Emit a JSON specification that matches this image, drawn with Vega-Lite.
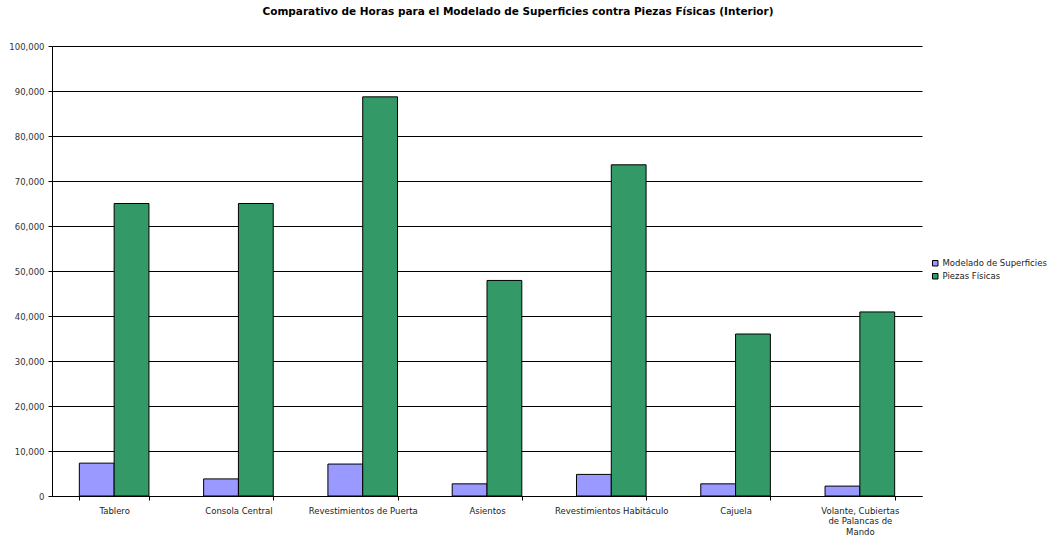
{
  "$schema": "https://vega.github.io/schema/vega-lite/v6.json",
  "autosize": {"type": "none"},
  "width": 870,
  "height": 450,
  "padding": {"left": 52, "top": 46, "right": 125, "bottom": 41},
  "background": "white",
  "title": {
    "text": "Comparativo de Horas para el Modelado de Superficies contra Piezas Físicas (Interior)",
    "font": "DejaVu Sans",
    "fontSize": 10.5,
    "fontWeight": "bold",
    "color": "#000000",
    "anchor": "middle",
    "dx": 31,
    "offset": 25
  },
  "config": {
    "view": {"stroke": null},
    "font": "DejaVu Sans"
  },
  "data": {
    "values": [
      {"cat": "Tablero", "serie": "Modelado de Superficies", "horas": 7300},
      {"cat": "Tablero", "serie": "Piezas Físicas", "horas": 65000},
      {"cat": "Consola Central", "serie": "Modelado de Superficies", "horas": 3800},
      {"cat": "Consola Central", "serie": "Piezas Físicas", "horas": 65000},
      {"cat": "Revestimientos de Puerta", "serie": "Modelado de Superficies", "horas": 7100},
      {"cat": "Revestimientos de Puerta", "serie": "Piezas Físicas", "horas": 88700},
      {"cat": "Asientos", "serie": "Modelado de Superficies", "horas": 2700},
      {"cat": "Asientos", "serie": "Piezas Físicas", "horas": 47900},
      {"cat": "Revestimientos Habitáculo", "serie": "Modelado de Superficies", "horas": 4800},
      {"cat": "Revestimientos Habitáculo", "serie": "Piezas Físicas", "horas": 73600},
      {"cat": "Cajuela", "serie": "Modelado de Superficies", "horas": 2700},
      {"cat": "Cajuela", "serie": "Piezas Físicas", "horas": 36000},
      {"cat": "Volante, Cubiertas de Palancas de Mando", "serie": "Modelado de Superficies", "horas": 2200},
      {"cat": "Volante, Cubiertas de Palancas de Mando", "serie": "Piezas Físicas", "horas": 40900}
    ]
  },
  "mark": {"type": "bar", "stroke": "#000000", "strokeWidth": 1},
  "encoding": {
    "x": {
      "field": "cat",
      "type": "nominal",
      "sort": null,
      "title": null,
      "scale": {"paddingInner": 0.44, "paddingOuter": 0.22},
      "axis": {
        "tickBand": "extent",
        "labelAngle": 0,
        "labelFont": "DejaVu Sans",
        "labelFontSize": 8.5,
        "labelColor": "#222222",
        "labelPadding": 6,
        "labelLimit": 200,
        "labelOverlap": false,
        "domainColor": "#000000",
        "tickColor": "#000000",
        "tickSize": 4,
        "labelExpr": "datum.value == 'Volante, Cubiertas de Palancas de Mando' ? ['Volante, Cubiertas', 'de Palancas de', 'Mando'] : datum.label"
      }
    },
    "xOffset": {"field": "serie", "type": "nominal", "sort": ["Modelado de Superficies", "Piezas Físicas"]},
    "y": {
      "field": "horas",
      "type": "quantitative",
      "title": null,
      "scale": {"domain": [0, 100000], "nice": false},
      "axis": {
        "values": [0, 10000, 20000, 30000, 40000, 50000, 60000, 70000, 80000, 90000, 100000],
        "format": ",d",
        "labelOverlap": false,
        "labelBound": false,
        "labelFlush": false,
        "grid": true,
        "gridColor": "#000000",
        "gridOpacity": 1,
        "domainColor": "#000000",
        "tickColor": "#000000",
        "tickSize": 4,
        "labelFont": "DejaVu Sans",
        "labelFontSize": 8.5,
        "labelColor": "#333333",
        "labelPadding": 4
      }
    },
    "color": {
      "field": "serie",
      "type": "nominal",
      "sort": ["Modelado de Superficies", "Piezas Físicas"],
      "scale": {"domain": ["Modelado de Superficies", "Piezas Físicas"], "range": ["#9999FF", "#339966"]},
      "legend": {
        "title": null,
        "orient": "none",
        "legendX": 879,
        "legendY": 213,
        "symbolType": "square",
        "symbolSize": 30,
        "symbolStrokeColor": "#000000",
        "symbolStrokeWidth": 1,
        "labelFont": "DejaVu Sans",
        "labelFontSize": 8.5,
        "labelColor": "#222222",
        "rowPadding": 3,
        "labelOffset": 3
      }
    }
  }
}
